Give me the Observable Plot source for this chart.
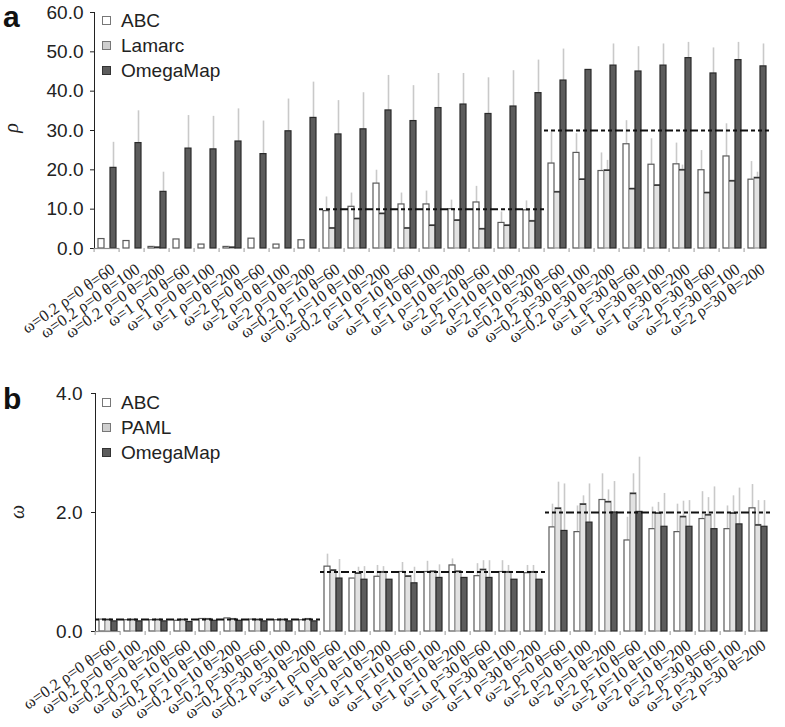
<!DOCTYPE html>
<html><head><meta charset="utf-8">
<script src="https://cdn.jsdelivr.net/npm/d3@7"></script>
<script src="https://cdn.jsdelivr.net/npm/@observablehq/plot@0.6"></script>
<style>
body{margin:0;background:#fff;}
#wrap{position:relative;width:785px;height:727px;overflow:hidden;font-family:"Liberation Sans",Arial,sans-serif;}
.panel{position:relative;display:block;}
.panel svg{display:block;overflow:visible;}
.letter{position:absolute;font-weight:bold;font-size:30px;line-height:34px;height:34px;color:#111;}
.legend{position:absolute;font-size:19px;color:#222;}
.legend .row{height:25px;display:flex;align-items:center;white-space:nowrap;}
.legend .sw{display:inline-block;width:7px;height:7px;border:1.5px solid #666;margin-right:10px;}
.ylab{position:absolute;font-family:"Liberation Serif",serif;font-style:italic;font-size:20px;line-height:20px;transform:rotate(-90deg);color:#222;}
g[aria-label="y-axis tick"], g[aria-label="y-axis line"] {stroke:#888;}
</style></head>
<body><div id="wrap"></div>
<script>
// ---------- Panel a: rho estimates ----------
const catsA = [
  "ω=0.2 ρ=0 θ=60","ω=0.2 ρ=0 θ=100","ω=0.2 ρ=0 θ=200",
  "ω=1 ρ=0 θ=60","ω=1 ρ=0 θ=100","ω=1 ρ=0 θ=200",
  "ω=2 ρ=0 θ=60","ω=2 ρ=0 θ=100","ω=2 ρ=0 θ=200",
  "ω=0.2 ρ=10 θ=60","ω=0.2 ρ=10 θ=100","ω=0.2 ρ=10 θ=200",
  "ω=1 ρ=10 θ=60","ω=1 ρ=10 θ=100","ω=1 ρ=10 θ=200",
  "ω=2 ρ=10 θ=60","ω=2 ρ=10 θ=100","ω=2 ρ=10 θ=200",
  "ω=0.2 ρ=30 θ=60","ω=0.2 ρ=30 θ=100","ω=0.2 ρ=30 θ=200",
  "ω=1 ρ=30 θ=60","ω=1 ρ=30 θ=100","ω=1 ρ=30 θ=200",
  "ω=2 ρ=30 θ=60","ω=2 ρ=30 θ=100","ω=2 ρ=30 θ=200"
];
const methodsA = ["ABC", "Lamarc", "OmegaMap"];
const abcA    = [2.4,1.9,0.4,2.3,1.0,0.4,2.5,1.0,2.1, 9.5,10.6,16.5,11.2,11.2,10.0,11.7,6.5,9.7, 21.6,24.3,19.7,26.5,21.3,21.4,19.9,23.4,17.5];
const abcAerr = [null,null,null,null,null,null,null,null,null, 13.1,14.1,19.9,14.1,14.6,12.3,15.8,9.3,12.1, 29.6,29.2,24.3,32.5,27.9,26.8,24.9,31.7,22.1];
const lamA    = [0,0,0.3,0,0,0.3,0,0,0, 5.2,7.6,8.9,5.2,5.9,7.2,5.0,5.9,7.0, 14.4,17.6,19.9,15.2,16.1,20.0,14.2,17.2,18.0];
const lamAerr = [null,null,null,null,null,null,null,null,null, null,null,null,null,null,null,null,null,null, null,null,22.4,null,null,21.2,null,null,19.4];
const omA     = [20.5,26.8,14.4,25.4,25.2,27.2,24.0,29.8,33.2, 29.0,30.3,35.1,32.4,35.7,36.6,34.2,36.1,39.5, 42.7,45.4,46.5,45.0,46.5,48.4,44.5,47.9,46.3];
const omAerr  = [27.0,35.0,19.4,33.8,33.6,35.5,32.4,38.0,42.3, 37.6,39.6,44.0,41.4,44.5,44.5,43.4,45.2,47.9, 50.7,null,52.0,51.3,52.0,52.4,51.0,52.4,52.0];
const trueA   = [0,0,0,0,0,0,0,0,0, 10,10,10,10,10,10,10,10,10, 30,30,30,30,30,30,30,30,30];
const ticksA  = [0,10,20,30,40,50,60];

// ---------- Panel b: omega estimates ----------
const catsB = [
  "ω=0.2 ρ=0 θ=60","ω=0.2 ρ=0 θ=100","ω=0.2 ρ=0 θ=200",
  "ω=0.2 ρ=10 θ=60","ω=0.2 ρ=10 θ=100","ω=0.2 ρ=10 θ=200",
  "ω=0.2 ρ=30 θ=60","ω=0.2 ρ=30 θ=100","ω=0.2 ρ=30 θ=200",
  "ω=1 ρ=0 θ=60","ω=1 ρ=0 θ=100","ω=1 ρ=0 θ=200",
  "ω=1 ρ=10 θ=60","ω=1 ρ=10 θ=100","ω=1 ρ=10 θ=200",
  "ω=1 ρ=30 θ=60","ω=1 ρ=30 θ=100","ω=1 ρ=30 θ=200",
  "ω=2 ρ=0 θ=60","ω=2 ρ=0 θ=100","ω=2 ρ=0 θ=200",
  "ω=2 ρ=10 θ=60","ω=2 ρ=10 θ=100","ω=2 ρ=10 θ=200",
  "ω=2 ρ=30 θ=60","ω=2 ρ=30 θ=100","ω=2 ρ=30 θ=200"
];
const methodsB = ["ABC", "PAML", "OmegaMap"];
const abcB     = [0.20,0.19,0.19,0.18,0.21,0.22,0.20,0.19,0.19, 1.09,0.89,0.92,1.00,1.00,1.11,0.93,1.00,0.98, 1.75,1.67,2.21,1.53,1.72,1.67,1.89,1.72,2.07];
const abcBerr  = [null,null,null,null,null,null,null,null,null, 1.30,null,1.11,1.16,1.18,1.22,1.14,1.19,1.11, 2.14,2.11,2.65,1.92,2.09,2.14,2.35,2.11,2.47];
const pamlB    = [0.20,0.20,0.20,0.20,0.21,0.21,0.20,0.20,0.21, 1.03,0.98,1.00,0.93,1.01,1.01,1.04,1.00,1.00, 2.07,2.14,2.18,2.32,1.99,1.93,1.96,1.99,1.79];
const pamlBerr = [null,null,null,null,null,null,null,null,null, null,1.08,1.09,null,null,null,1.19,1.11,1.11, 2.51,2.28,2.38,2.65,2.17,2.19,2.25,2.28,2.20];
const omB      = [0.17,0.17,0.17,0.16,0.18,0.18,0.17,0.17,0.17, 0.89,0.87,0.87,0.81,0.90,0.90,0.90,0.87,0.87, 1.69,1.83,2.00,2.01,1.76,1.76,1.72,1.80,1.76];
const omBerr   = [null,null,null,null,null,null,null,null,null, 1.21,1.09,null,1.08,1.12,null,1.19,null,null, 2.48,2.48,2.52,2.93,2.32,2.20,2.43,2.41,2.20];
const trueB    = [0.2,0.2,0.2,0.2,0.2,0.2,0.2,0.2,0.2, 1,1,1,1,1,1,1,1,1, 2,2,2,2,2,2,2,2,2];
const ticksB   = [0,2,4];

const fills   = ["#ffffff", "#e2e2e2", "#5c5c5c"];
const strokes = ["#5a5a5a", "#9a9a9a", "#2a2a2a"];

function panel({cats, methods, series, errs, truth, yMax, yTicks, height, marginTop, marginBottom, marginLeft, tickPadding, tickPaddingY}) {
  const rows = [];
  cats.forEach((c, i) => methods.forEach((m, k) =>
    rows.push({cat: c, method: m, k, value: series[k][i], err: errs[k][i]})));
  const refs = cats.map((c, i) => ({cat: c, ref: truth[i]})).filter(d => d.ref > 0);
  const marginRight = 5;
  const step = (785 - marginLeft - marginRight) / cats.length;
  const marks = [
    Plot.ruleX(rows.filter(d => d.err != null), {fx: "cat", x: "method", y1: "value", y2: "err", stroke: "#c9c9c9", strokeWidth: 1.6})
  ];
  methods.forEach((m, k) => {
    marks.push(Plot.barY(rows.filter(d => d.k === k), {fx: "cat", x: "method", y: "value", fill: fills[k], stroke: strokes[k], strokeWidth: 1.2}));
  });
  marks.push(Plot.tickY(rows.filter(d => d.k === 1 && d.value > 0), {fx: "cat", x: "method", y: "value", stroke: "#333", strokeWidth: 1.5}));
  marks.push(Plot.ruleY(cats, {fx: d => d, y: [0], stroke: "#8a8a8a", strokeWidth: 1.2}));
  marks.push(Plot.ruleY(refs, {fx: "cat", y: "ref", stroke: "#111", strokeWidth: 2, strokeDasharray: "4,3"}));
  marks.push(Plot.axisFx({anchor: "bottom", tickSize: 0, tickPadding, tickRotate: -35, fontSize: 16.5, fontFamily: "Liberation Serif, serif", fill: "#222", label: null, dx: 6}));
  marks.push(Plot.axisFx({anchor: "bottom", text: null, tickSize: 4, dx: -step / 2, stroke: "#999", label: null}));
  return Plot.plot({
    width: 785, height, marginTop, marginBottom, marginLeft, marginRight,
    style: {fontFamily: "Liberation Sans, Arial, sans-serif", fontSize: "19px", color: "#222", background: "white"},
    fx: {domain: cats, padding: 0, label: null},
    x: {domain: methods, paddingInner: 0.06, paddingOuter: 0.45, axis: null},
    y: {domain: [0, yMax], ticks: yTicks, tickFormat: d3.format(".1f"), tickSize: 4, tickPadding: tickPaddingY, line: true, label: null},
    marks
  });
}

const wrap = document.getElementById("wrap");

function addPanel(svg) {
  const d = document.createElement("div");
  d.className = "panel";
  d.appendChild(svg);
  wrap.appendChild(d);
}

addPanel(panel({cats: catsA, methods: methodsA, series: [abcA, lamA, omA], errs: [abcAerr, lamAerr, omAerr],
  truth: trueA, yMax: 60, yTicks: ticksA, height: 365, marginTop: 12, marginBottom: 117, marginLeft: 83, tickPadding: 19, tickPaddingY: 7}));
addPanel(panel({cats: catsB, methods: methodsB, series: [abcB, pamlB, omB], errs: [abcBerr, pamlBerr, omBerr],
  truth: trueB, yMax: 4, yTicks: ticksB, height: 362, marginTop: 28, marginBottom: 96, marginLeft: 85, tickPadding: 12, tickPaddingY: 9}));

function overlay(html, cls, left, top) {
  const d = document.createElement("div");
  d.className = cls;
  d.style.left = left + "px";
  d.style.top = top + "px";
  d.innerHTML = html;
  wrap.appendChild(d);
}
function legend(names, left, top) {
  const html = names.map((n, k) =>
    `<div class="row"><span class="sw" style="background:${k === 1 ? "#cfcfcf" : fills[k]};border-color:${k === 2 ? "#333" : "#777"}"></span>${n}</div>`).join("");
  overlay(html, "legend", left, top);
}
overlay("a", "letter", 3, 0);
overlay("b", "letter", 3, 382);
overlay("ρ", "ylab", 6, 118);
overlay("ω", "ylab", 10, 502);
legend(methodsA, 102, 8);
legend(methodsB, 102, 390);
</script></body></html>
